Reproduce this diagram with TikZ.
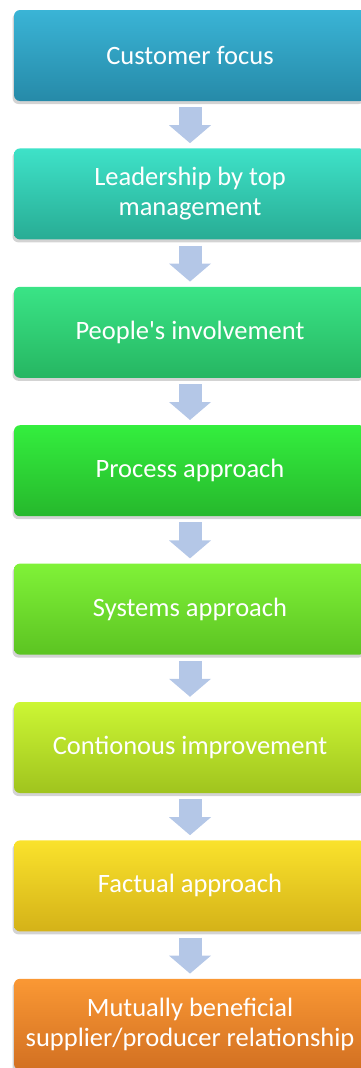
\documentclass[tikz,border=0pt]{standalone}
\usepackage{fontspec}
\setmainfont{Carlito}
\usetikzlibrary{positioning,arrows.meta,shadows}

\definecolor{arrowblue}{RGB}{180,199,231}
\definecolor{cfTop}{RGB}{58,180,214}\definecolor{cfBot}{RGB}{38,138,168}
\definecolor{lmTop}{RGB}{62,226,200}\definecolor{lmBot}{RGB}{40,172,148}
\definecolor{piTop}{RGB}{58,228,134}\definecolor{piBot}{RGB}{38,182,98}
\definecolor{paTop}{RGB}{52,238,62}\definecolor{paBot}{RGB}{38,184,44}
\definecolor{saTop}{RGB}{128,242,56}\definecolor{saBot}{RGB}{92,196,34}
\definecolor{ciTop}{RGB}{204,246,52}\definecolor{ciBot}{RGB}{160,196,30}
\definecolor{faTop}{RGB}{250,226,44}\definecolor{faBot}{RGB}{212,178,24}
\definecolor{mbTop}{RGB}{250,152,52}\definecolor{mbBot}{RGB}{210,112,34}

\begin{document}
\begin{tikzpicture}[x=1pt,y=-1pt]
	\tikzset{stage/.style 2 args={rounded corners=6pt, minimum width=352pt, minimum height=91pt, align=center, text=white, font=\fontsize{26.5}{30}\selectfont, top color=#1, bottom color=#2, drop shadow={shadow xshift=-1.5pt,shadow yshift=-3pt,opacity=0.35}},
		flow/.style={draw=arrowblue, line width=23pt, -{Triangle[width=41pt,length=18pt]}, shorten <=6pt, shorten >=5pt}};
	\useasboundingbox (0,0) rectangle (361,1068);
	\node[stage={cfTop}{cfBot}] (cf) at (190,55.5) {Customer focus};
	\node[stage={lmTop}{lmBot}, below=47pt of cf] (lm) {Leadership by top\\management};
	\node[stage={piTop}{piBot}, below=47pt of lm] (pi) {People\textquotesingle s involvement};
	\node[stage={paTop}{paBot}, below=47pt of pi] (pa) {Process approach};
	\node[stage={saTop}{saBot}, below=47pt of pa] (sa) {Systems approach};
	\node[stage={ciTop}{ciBot}, below=47pt of sa] (ci) {Contionous improvement};
	\node[stage={faTop}{faBot}, below=47pt of ci] (fa) {Factual approach};
	\node[stage={mbTop}{mbBot}, below=47pt of fa] (mb) {Mutually beneficial\\supplier/producer relationship};
	\draw[flow] (cf) -- (lm);
	\draw[flow] (lm) -- (pi);
	\draw[flow] (pi) -- (pa);
	\draw[flow] (pa) -- (sa);
	\draw[flow] (sa) -- (ci);
	\draw[flow] (ci) -- (fa);
	\draw[flow] (fa) -- (mb);
\end{tikzpicture}
\end{document}
